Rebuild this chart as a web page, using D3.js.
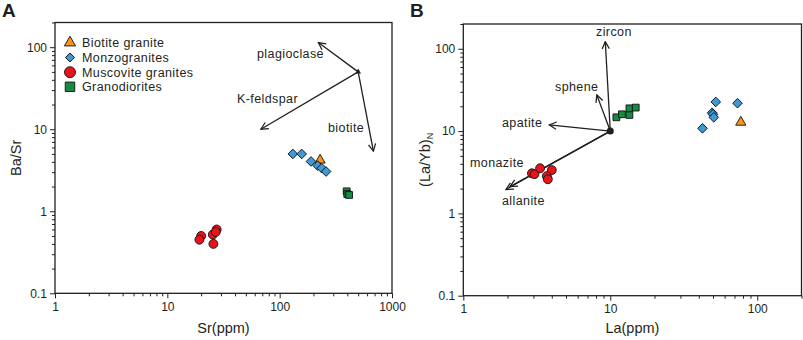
<!DOCTYPE html>
<html>
<head>
<meta charset="utf-8">
<title>Ba/Sr vs Sr and (La/Yb)N vs La</title>
<script src="https://cdn.jsdelivr.net/npm/d3@7"></script>
<style>
  body { margin: 0; background: #fff; }
  svg text { font-family: Arial, "Liberation Sans", sans-serif; fill: #231f20; }
  .axis text { font-size: 12px; }
  .axis line, .axis path { stroke: #231f20; }
  .title { font-size: 14.5px; }
  .note { font-size: 12.5px; letter-spacing: 0.4px; }
  .leg { font-size: 12.5px; letter-spacing: 0.4px; }
</style>
</head>
<body>
<div id="chart"></div>
<script>
// ---- data, panel A (Sr ppm vs Ba/Sr)
const groups = ["Biotite granite", "Monzogranites", "Muscovite granites", "Granodiorites"];
const colors = ["#f7941d", "#3c9ad6", "#e8141b", "#168a42"];
const shapes = [d3.symbolTriangle, d3.symbolSquare, d3.symbolCircle, d3.symbolSquare];
const rotations = [0, 45, 0, 0];

const aBiotite = [[229, 4.2]];
const aMonzo = [[131, 5.0], [157, 5.0], [190, 4.05], [218, 3.6], [237, 3.35], [259, 3.05]];
const aMusco = [[20, 0.5], [19.3, 0.45], [25.4, 0.52], [27.5, 0.6], [27, 0.56], [25.7, 0.4]];
const aGrano = [[395, 1.75], [400, 1.62], [415, 1.58]];
const aOrigin = [500, 50];
const aVectors = [
  { name: "plagioclase", tip: [221, 114], lx: 257, ly: 58 },
  { name: "K-feldspar", tip: [68, 10], lx: 237, ly: 103 },
  { name: "biotite", tip: [683, 5.4], lx: 328, ly: 132 }
];

// ---- data, panel B (La ppm vs (La/Yb)N)
const bBiotite = [[77.3, 12.8]];
const bMonzo = [[42.4, 10.8], [52.2, 22.6], [49.3, 16.7], [50, 16.0], [50.6, 14.7], [73.4, 21.8]];
const bMusco = [[2.93, 3.07], [3.05, 3.0], [3.33, 3.53], [4.0, 3.36], [3.7, 2.84], [3.76, 2.6]];
const bGrano = [[11.0, 14.7], [12.0, 16.0], [13.5, 15.7], [13.5, 18.9], [14.9, 19.3]];
const bOrigin = [10, 10];
const bVectors = [
  { name: "zircon", tip: [9.25, 122], lx: 596, ly: 36 },
  { name: "sphene", tip: [8.1, 27.5], lx: 555, ly: 91 },
  { name: "apatite", tip: [3.84, 11.9], lx: 502, ly: 127 },
  { name: "monazite", tip: [2.08, 2.12], lx: 470, ly: 167 },
  { name: "allanite", tip: [1.95, 1.95], lx: 502, ly: 205 }
];

const W = 803, H = 340;
const svg = d3.select("#chart").append("svg").attr("width", W).attr("height", H);

const defs = svg.append("defs");
defs.append("marker")
  .attr("id", "vhead")
  .attr("viewBox", "0 0 10 10")
  .attr("refX", 9).attr("refY", 5)
  .attr("markerWidth", 9).attr("markerHeight", 9)
  .attr("markerUnits", "userSpaceOnUse")
  .attr("orient", "auto")
  .append("path")
  .attr("d", "M1,1 L9,5 L1,9")
  .attr("fill", "none").attr("stroke", "#231f20").attr("stroke-width", 1.4);

function isMajor(d) {
  const l = Math.log10(d);
  return Math.abs(l - Math.round(l)) < 1e-6;
}

const markSizes = [45, 46, 62, 46];

function panel(cfg) {
  const g = svg.append("g");
  const x = d3.scaleLog().domain(cfg.xDomain).range([cfg.left, cfg.right]);
  const y = d3.scaleLog().domain([0.1, 200]).range([cfg.bottom, cfg.top]);

  // frame
  g.append("rect")
    .attr("x", cfg.left).attr("y", cfg.top)
    .attr("width", cfg.right - cfg.left).attr("height", cfg.bottom - cfg.top)
    .attr("fill", "none").attr("stroke", "#231f20").attr("stroke-width", 1.3);

  const xt = x.ticks().filter(d => d <= cfg.xDomain[1]);
  const yt = y.ticks().filter(d => d <= 200);

  const xa = g.append("g").attr("class", "axis")
    .attr("transform", `translate(0,${cfg.bottom})`)
    .call(d3.axisBottom(x).tickValues(xt).tickSize(5).tickPadding(4)
      .tickFormat(d => isMajor(d) ? d3.format("~g")(d) : ""));
  xa.selectAll(".tick line").attr("y2", d => isMajor(d) ? 5 : 3);
  xa.select(".domain").remove();

  const ya = g.append("g").attr("class", "axis")
    .attr("transform", `translate(${cfg.left},0)`)
    .call(d3.axisLeft(y).tickValues(yt).tickSize(5).tickPadding(3)
      .tickFormat(d => isMajor(d) ? d3.format("~g")(d) : ""));
  ya.selectAll(".tick line").attr("x2", d => isMajor(d) ? -5 : -3);
  ya.select(".domain").remove();

  // axis titles
  g.append("text").attr("class", "title")
    .attr("x", (cfg.left + cfg.right) / 2).attr("y", 333)
    .attr("text-anchor", "middle").text(cfg.xTitle);
  const yt2 = g.append("text").attr("class", "title")
    .attr("transform", `translate(${cfg.yTitleX},${(cfg.top + cfg.bottom) / 2}) rotate(-90)`)
    .attr("text-anchor", "middle");
  cfg.yTitle(yt2);

  // panel letter
  g.append("text").attr("x", cfg.letterX).attr("y", 17)
    .attr("font-size", "19px").attr("font-weight", "bold").text(cfg.letter);

  // vectors
  const [ox, oy] = cfg.origin;
  cfg.vectors.forEach(v => {
    g.append("line")
      .attr("x1", x(ox)).attr("y1", y(oy))
      .attr("x2", x(v.tip[0])).attr("y2", y(v.tip[1]))
      .attr("stroke", "#231f20").attr("stroke-width", 1.3)
      .attr("marker-end", "url(#vhead)");
    g.append("text").attr("class", "note")
      .attr("x", v.lx).attr("y", v.ly).text(v.name);
  });
  cfg.originMark(g, x(ox), y(oy));

  // points
  cfg.sets.forEach((pts, i) => {
    g.selectAll(null).data(pts).enter().append("path")
      .attr("transform", d => `translate(${x(d[0])},${y(d[1])}) rotate(${rotations[i]})`)
      .attr("d", d3.symbol().type(shapes[i]).size(markSizes[i])())
      .attr("fill", colors[i]).attr("stroke", "#111").attr("stroke-width", 0.9);
  });
  return { x, y, g };
}

const pA = panel({
  left: 55, right: 392, top: 22.5, bottom: 293.3,
  xDomain: [1, 1000], xTitle: "Sr(ppm)", yTitleX: 21,
  yTitle: t => t.text("Ba/Sr"),
  letter: "A", letterX: 2,
  origin: aOrigin, vectors: aVectors,
  originMark: (g, cx, cy) => g.append("path")
    .attr("transform", `translate(${cx},${cy})`)
    .attr("d", d3.symbol().type(d3.symbolTriangle).size(14)())
    .attr("fill", "#231f20"),
  sets: [aBiotite, aMonzo, aMusco, aGrano]
});

const pB = panel({
  left: 463.3, right: 801.5, top: 24, bottom: 295.7,
  xDomain: [1, 200], xTitle: "La(ppm)", yTitleX: 430,
  yTitle: t => {
    t.append("tspan").text("(La/Yb)");
    t.append("tspan").attr("font-size", "9px").attr("dy", 3).text("N");
  },
  letter: "B", letterX: 410,
  origin: bOrigin, vectors: bVectors,
  originMark: (g, cx, cy) => g.append("circle")
    .attr("cx", cx).attr("cy", cy).attr("r", 3.5).attr("fill", "#231f20"),
  sets: [bBiotite, bMonzo, bMusco, bGrano]
});

// legend in panel A
const legRows = [42.7, 57.5, 72.2, 86.8];
const legSizes = [55, 40, 95, 90];
groups.forEach((name, i) => {
  pA.g.append("path")
    .attr("transform", `translate(70,${legRows[i]}) rotate(${rotations[i]})`)
    .attr("d", d3.symbol().type(shapes[i]).size(legSizes[i])())
    .attr("fill", colors[i]).attr("stroke", "#111").attr("stroke-width", 0.9);
  pA.g.append("text").attr("class", "leg")
    .attr("x", 82).attr("y", legRows[i] + 4.5).text(name);
});
</script>
</body>
</html>
